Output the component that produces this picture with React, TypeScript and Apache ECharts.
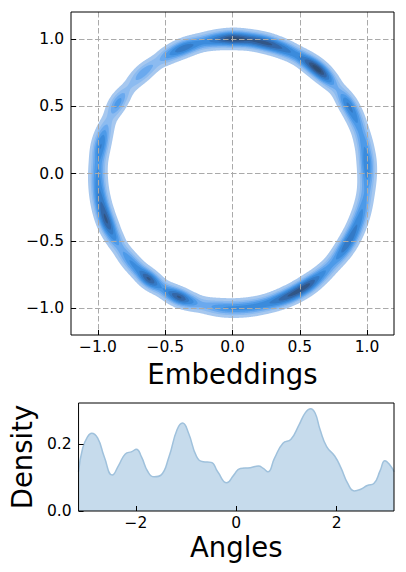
import React, { useEffect, useRef } from "react";
import * as echarts from "echarts";

// ---- Tick labels ----
const embTicks = [-1, -0.5, 0, 0.5, 1];
const angleTicks = [-2, 0, 2];
const densityTicks = [0, 0.2];

// ---- Bottom panel: KDE of angles ----
const angleGrid = [
  -3.1416, -3.06, -2.96, -2.88, -2.76, -2.63, -2.47, -2.34, -2.21, -2.08, -1.99, -1.89, -1.76,
  -1.63, -1.5, -1.34, -1.18, -1.07, -0.95, -0.79, -0.66, -0.5, -0.37, -0.19, -0.05, 0.08, 0.28,
  0.44, 0.54, 0.63, 0.76, 0.93, 1.09, 1.25, 1.38, 1.48, 1.57, 1.67, 1.8, 1.96, 2.09, 2.22, 2.35,
  2.48, 2.61, 2.74, 2.87, 2.96, 3.06, 3.1416,
];
const angleDensity = [
  0.117, 0.187, 0.222, 0.232, 0.217, 0.162, 0.107, 0.137, 0.17, 0.177, 0.184, 0.162, 0.117,
  0.102, 0.107, 0.162, 0.242, 0.262, 0.232, 0.162, 0.147, 0.145, 0.117, 0.084, 0.107, 0.127, 0.129,
  0.134, 0.127, 0.117, 0.157, 0.202, 0.214, 0.257, 0.294, 0.305, 0.292, 0.242, 0.192, 0.164, 0.127,
  0.082, 0.06, 0.065, 0.076, 0.082, 0.122, 0.15, 0.137, 0.117,
];

// ---- Top panel: relative 2D density along the unit-circle ring ----
const ringAngles = [
  -3.05, -2.95, -2.78, -2.64, -2.56, -2.44, -2.34, -2.24, -2.12, -1.98, -1.88, -1.8, -1.64, -1.49,
  -1.31, -1.13, -0.98, -0.86, -0.74, -0.55, -0.39, -0.15, 0.07, 0.2, 0.33, 0.53, 0.69, 0.88, 1.07,
  1.2, 1.31, 1.45, 1.57, 1.68, 1.8, 1.95, 2.08, 2.16, 2.3, 2.45, 2.59, 2.73, 2.92, 3.07,
];
const ringIntensity = [
  0.6, 0.72, 0.88, 0.55, 0.38, 0.5, 0.6, 0.88, 0.5, 0.88, 0.55, 0.35, 0.5, 0.55,
  0.6, 0.88, 0.9, 0.6, 0.45, 0.72, 0.62, 0.42, 0.6, 0.5, 0.45, 0.65, 0.33, 1.0, 0.6,
  0.75, 0.9, 0.88, 0.98, 0.75, 0.55, 0.72, 0.45, 0.28, 0.38, 0.22, 0.45, 0.25, 0.62, 0.5,
];
const ringLevels = [0.08, 0.2, 0.3, 0.4, 0.5, 0.62, 0.74, 0.86, 0.95];
const ringColors = [
  "#a7c8ef", "#8cbbf0", "#6aa9ee", "#4d9ae8", "#3b8bdc", "#347ac6", "#3367a8", "#325686", "#2f4d72",
];
const RING_RADIUS = 1;
const RING_SIGMA = 0.0378;

const FONT = "DejaVu Sans";

function fmt1(v: number) {
  return (v < 0 ? "\u2212" : "") + Math.abs(v).toFixed(1);
}
function fmt0(v: number) {
  return (v < 0 ? "\u2212" : "") + Math.abs(Math.round(v)).toString();
}

function ringIntensityAt(theta: number): number {
  const n = ringAngles.length;
  const a0 = ringAngles[0];
  let t = theta;
  while (t < a0) t += 2 * Math.PI;
  while (t >= a0 + 2 * Math.PI) t -= 2 * Math.PI;
  for (let i = 0; i < n; i++) {
    const a1 = ringAngles[i];
    const a2 = i + 1 < n ? ringAngles[i + 1] : ringAngles[0] + 2 * Math.PI;
    if (t >= a1 && t < a2) {
      const u = (t - a1) / (a2 - a1);
      const p0 = ringIntensity[(i - 1 + n) % n];
      const p1 = ringIntensity[i];
      const p2 = ringIntensity[(i + 1) % n];
      const p3 = ringIntensity[(i + 2) % n];
      const v =
        0.5 *
        (2 * p1 +
          (-p0 + p2) * u +
          (2 * p0 - 5 * p1 + 4 * p2 - p3) * u * u +
          (-p0 + 3 * p1 - 3 * p2 + p3) * u * u * u);
      return Math.max(0.01, v);
    }
  }
  return ringIntensity[0];
}

export default function App() {
  const ref = useRef<HTMLDivElement>(null);

  useEffect(() => {
    if (!ref.current) return;
    const chart = echarts.init(ref.current, undefined, { renderer: "svg" });

    const renderRing = (params: any, api: any) => {
      if (params.dataIndex !== 0) return null;
      const N = 1440;
      const th: number[] = [];
      const I: number[] = [];
      for (let k = 0; k < N; k++) {
        const t = -Math.PI + (2 * Math.PI * k) / N;
        th.push(t);
        I.push(ringIntensityAt(t));
      }
      const pt = (r: number, t: number) => {
        const p = api.coord([r * Math.cos(t), r * Math.sin(t)]);
        return p[0].toFixed(2) + " " + p[1].toFixed(2);
      };
      const children: any[] = [];
      ringLevels.forEach((L, li) => {
        const w = I.map((v) => (v > L ? RING_SIGMA * Math.sqrt(2 * Math.log(v / L)) : 0));
        const inside = I.map((v) => v > L);
        let d = "";
        if (inside.every(Boolean)) {
          for (let k = 0; k < N; k++) d += (k ? "L" : "M") + pt(RING_RADIUS + w[k], th[k]);
          d += "Z";
          for (let k = N - 1; k >= 0; k--)
            d += (k === N - 1 ? "M" : "L") + pt(RING_RADIUS - w[k], th[k]);
          d += "Z";
        } else {
          const s0 = inside.findIndex((b) => !b);
          let run: number[] = [];
          const flush = () => {
            if (!run.length) return;
            const prev = (run[0] - 1 + N) % N;
            const next = (run[run.length - 1] + 1) % N;
            d += "M" + pt(RING_RADIUS, th[prev]);
            for (const k of run) d += "L" + pt(RING_RADIUS + w[k], th[k]);
            d += "L" + pt(RING_RADIUS, th[next]);
            for (let j = run.length - 1; j >= 0; j--)
              d += "L" + pt(RING_RADIUS - w[run[j]], th[run[j]]);
            d += "Z";
            run = [];
          };
          for (let j = 1; j <= N; j++) {
            const k = (s0 + j) % N;
            if (inside[k]) run.push(k);
            else flush();
          }
          flush();
        }
        if (d) children.push({ type: "path", shape: { pathData: d }, style: { fill: ringColors[li] } });
      });
      return { type: "group", children };
    };

    const tickStyle = { color: "#000", width: 1 };
    const labelBase = { color: "#000", fontSize: 15.5, fontFamily: FONT };
    const hiddenLine = { show: false, onZero: false };
    const gridLine = { show: true, lineStyle: { color: "#aaaaaa", width: 1, type: [5.5, 2.5] } };

    chart.setOption({
      animation: false,
      backgroundColor: "#fff",
      grid: [
        { left: 71, top: 12, width: 323, height: 323, show: true, borderColor: "#000", borderWidth: 1, z: 10 },
        { left: 71, top: 403, width: 323, height: 108, show: true, borderColor: "#000", borderWidth: 1, z: 10 },
      ],
      xAxis: [
        {
          gridIndex: 0,
          type: "value",
          position: "bottom",
          min: -1.2,
          max: 1.2,
          z: 3,
          axisLine: hiddenLine,
          axisTick: { show: true, inside: true, length: 5, lineStyle: tickStyle, customValues: embTicks },
          axisLabel: { ...labelBase, margin: 5, lineHeight: 14, customValues: embTicks, formatter: fmt1 },
          splitLine: gridLine,
          name: "Embeddings",
          nameLocation: "middle",
          nameGap: 19,
          nameTextStyle: { color: "#000", fontSize: 27.5, fontFamily: FONT },
        },
        {
          gridIndex: 1,
          type: "value",
          position: "bottom",
          min: -Math.PI,
          max: Math.PI,
          z: 3,
          axisLine: hiddenLine,
          axisTick: { show: true, inside: true, length: 5, lineStyle: tickStyle, customValues: angleTicks },
          axisLabel: { ...labelBase, margin: 5, lineHeight: 14, customValues: angleTicks, formatter: fmt0 },
          splitLine: { show: false },
          name: "Angles",
          nameLocation: "middle",
          nameGap: 22,
          nameTextStyle: { color: "#000", fontSize: 27.5, fontFamily: FONT, lineHeight: 27 },
        },
      ],
      yAxis: [
        {
          gridIndex: 0,
          type: "value",
          position: "left",
          min: -1.2,
          max: 1.2,
          z: 3,
          axisLine: hiddenLine,
          axisTick: { show: true, inside: true, length: 5, lineStyle: tickStyle, customValues: embTicks },
          axisLabel: { ...labelBase, margin: 7, customValues: embTicks, formatter: fmt1 },
          splitLine: gridLine,
        },
        {
          gridIndex: 1,
          type: "value",
          position: "left",
          min: 0,
          max: 0.322,
          z: 3,
          axisLine: hiddenLine,
          axisTick: { show: true, inside: true, length: 5, lineStyle: tickStyle, customValues: densityTicks },
          axisLabel: { ...labelBase, margin: 7, customValues: densityTicks, formatter: fmt1 },
          splitLine: { show: false },
          name: "Density",
          nameLocation: "middle",
          nameRotate: 90,
          nameGap: 31,
          nameTextStyle: { color: "#000", fontSize: 27.5, fontFamily: FONT },
        },
      ],
      series: [
        {
          type: "custom",
          xAxisIndex: 0,
          yAxisIndex: 0,
          z: 2,
          clip: false,
          silent: true,
          data: ringAngles.map((a) => [RING_RADIUS * Math.cos(a), RING_RADIUS * Math.sin(a)]),
          encode: { x: 0, y: 1 },
          renderItem: renderRing,
        },
        {
          type: "line",
          xAxisIndex: 1,
          yAxisIndex: 1,
          z: 2,
          smooth: 0.5,
          showSymbol: false,
          silent: true,
          data: angleGrid.map((a, i) => [a, angleDensity[i]]),
          lineStyle: { color: "#9fc1dc", width: 1.5 },
          areaStyle: { color: "#c6dbec", opacity: 1 },
        },
      ],
    });

    return () => chart.dispose();
  }, []);

  return (
    <div
      ref={ref}
      style={{ position: "fixed", left: 0, top: 0, width: 406, height: 572, background: "#fff" }}
    />
  );
}
